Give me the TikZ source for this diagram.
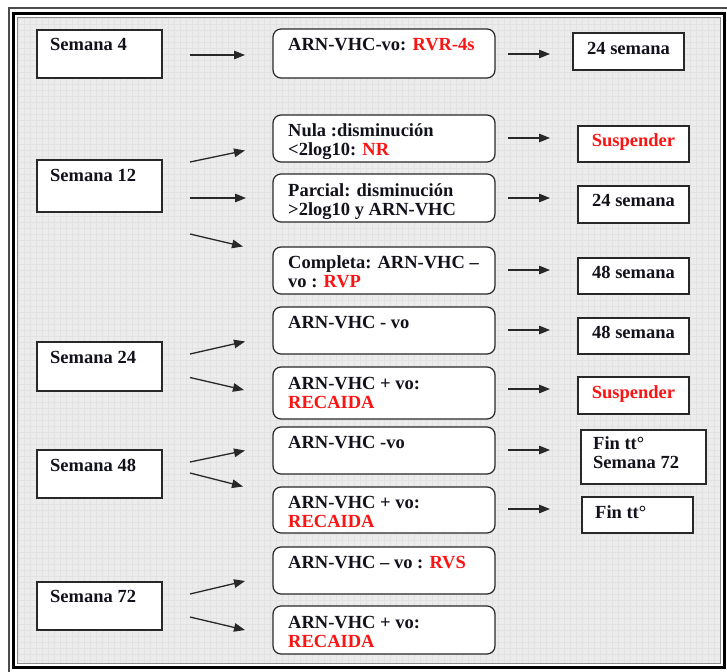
\documentclass[tikz,border=0pt]{standalone}
\usepackage{fontspec}
\setmainfont{Liberation Serif}
\usetikzlibrary{arrows.meta,calc}

\definecolor{ink}{RGB}{18,18,28}
\definecolor{alarm}{RGB}{250,20,20}
\definecolor{paper}{RGB}{236,236,236}
\definecolor{gridln}{RGB}{226,226,226}
\definecolor{edge}{RGB}{40,40,40}

\newcommand{\hot}[1]{\textcolor{alarm}{#1}}
\newcommand{\twoline}[2]{\vtop{\baselineskip=19pt\hbox{#1}\hbox{#2}}}

\tikzset{
  sqbox/.style={draw=edge, line width=1.4pt, fill=white, inner sep=0pt, outer sep=0pt},
  rbox/.style={draw=edge, line width=1.2pt, fill=white, rounded corners=8pt, inner sep=0pt, outer sep=0pt,
               minimum width=222pt},
  lbox/.style={sqbox, minimum width=125pt},
  obox/.style={sqbox, minimum width=111pt},
  txt/.style={anchor=base west, inner sep=0pt, font=\fontsize{18.5}{19}\selectfont\bfseries, text=ink},
  ctxt/.style={txt, anchor=base},
  arr/.style={draw=edge, line width=1.3pt, -{Triangle[length=11pt,width=8.5pt]}}
}

\begin{document}
\begin{tikzpicture}[x=1pt,y=-1pt]
\useasboundingbox (0,0) rectangle (727,671);

% sheet, grid and framing
\fill[white] (0,0) rectangle (727,671);
\fill[paper] (17,17) rectangle (721,664);
\begin{scope}
  \clip (17,17) rectangle (721,664);
  \draw[gridln, line width=0.4pt] (17,17) grid[step=6pt] (721,664);
\end{scope}
\draw[black!70, line width=2pt] (8.5,8.5) rectangle (730,674);
\draw[black, line width=3pt] (13.5,13.5) rectangle (724,667);
\draw[black!45, line width=0.8pt] (17,17) rectangle (720.5,663.5);

% week boxes
\node[lbox, minimum height=48pt] (s4)  at (99.5,54)  {};
\node[lbox, minimum height=52pt] (s12) at (99.5,186) {};
\node[lbox, minimum height=49pt] (s24) at (99.5,366.5) {};
\node[lbox, minimum height=48pt] (s48) at (99.5,474) {};
\node[lbox, minimum height=48pt] (s72) at (99.5,606) {};
\node[txt] at ([shift={(13,21)}]s4.north west)  {Semana 4};
\node[txt] at ([shift={(13,21)}]s12.north west) {Semana 12};
\node[txt] at ([shift={(13,21)}]s24.north west) {Semana 24};
\node[txt] at ([shift={(13,21)}]s48.north west) {Semana 48};
\node[txt] at ([shift={(13,20)}]s72.north west) {Semana 72};

% response boxes
\node[rbox, minimum height=49pt] (r4)   at (384,53.5)  {};
\node[rbox, minimum height=47pt] (rn)   at (384,138.5) {};
\node[rbox, minimum height=48pt] (rp)   at (384,198)   {};
\node[rbox, minimum height=47pt] (rc)   at (384,270.5) {};
\node[rbox, minimum height=47pt] (r24a) at (384,330.5) {};
\node[rbox, minimum height=52pt] (r24b) at (384,393)   {};
\node[rbox, minimum height=47pt] (r48a) at (384,450.5) {};
\node[rbox, minimum height=46pt] (r48b) at (384,510)   {};
\node[rbox, minimum height=47pt] (r72a) at (384,570.5) {};
\node[rbox, minimum height=48pt] (r72b) at (384,630)   {};

\node[txt] at ([shift={(15,22)}]r4.north west)   {ARN-VHC-vo: \hot{RVR-4s}};
\node[txt] at ([shift={(15,22)}]rn.north west)   {\twoline{Nula :disminución}{<2log10: \hot{NR}}};
\node[txt] at ([shift={(15,22)}]rp.north west)   {\twoline{Parcial: disminución}{>2log10 y ARN-VHC}};
\node[txt] at ([shift={(15,21)}]rc.north west)   {\twoline{Completa: ARN-VHC –}{vo : \hot{RVP}}};
\node[txt] at ([shift={(15,21)}]r24a.north west) {ARN-VHC - vo};
\node[txt] at ([shift={(15,22)}]r24b.north west) {\twoline{ARN-VHC + vo:}{\hot{RECAIDA}}};
\node[txt] at ([shift={(15,21)}]r48a.north west) {ARN-VHC -vo};
\node[txt] at ([shift={(15,21)}]r48b.north west) {\twoline{ARN-VHC + vo:}{\hot{RECAIDA}}};
\node[txt] at ([shift={(15,21)}]r72a.north west) {ARN-VHC – vo : \hot{RVS}};
\node[txt] at ([shift={(15,22)}]r72b.north west) {\twoline{ARN-VHC + vo:}{\hot{RECAIDA}}};

% outcome boxes
\node[obox, minimum height=37pt] (o4)   at (628.5,51.5) {};
\node[obox, minimum height=36pt] (o12a) at (633.5,144)  {};
\node[obox, minimum height=37pt] (o12b) at (633.5,204.5) {};
\node[obox, minimum height=36pt] (o12c) at (633.5,276)  {};
\node[obox, minimum height=36pt] (o24a) at (633.5,336)  {};
\node[obox, minimum height=37pt] (o24b) at (633.5,395.5) {};
\node[sqbox, minimum width=125pt, minimum height=54pt] (o48a) at (643.5,457) {};
\node[obox, minimum height=36pt] (o48b) at (637.5,515)  {};

\node[ctxt] at ([shift={(0,22)}]o4.north)   {24 semana};
\node[ctxt] at ([shift={(0,21)}]o12a.north) {\hot{Suspender}};
\node[ctxt] at ([shift={(0,20)}]o12b.north) {24 semana};
\node[ctxt] at ([shift={(0,20)}]o12c.north) {48 semana};
\node[ctxt] at ([shift={(0,20)}]o24a.north) {48 semana};
\node[ctxt] at ([shift={(0,21)}]o24b.north) {\hot{Suspender}};
\node[txt] at ([shift={(12,19)}]o48a.north west) {\twoline{Fin tt°}{Semana 72}};
\node[txt] at ([shift={(13,21)}]o48b.north west) {Fin tt°};

% arrow end points
\coordinate (a4s)   at (190,55);    \coordinate (a4e)   at (245,55);
\coordinate (a12as) at (190,162);   \coordinate (a12ae) at (245,150.5);
\coordinate (a12bs) at (190,198);   \coordinate (a12be) at (246,198);
\coordinate (a12cs) at (190,234);   \coordinate (a12ce) at (243,246.5);
\coordinate (a24as) at (190,354);   \coordinate (a24ae) at (245,341.5);
\coordinate (a24bs) at (190,377.5); \coordinate (a24be) at (244,390);
\coordinate (a48as) at (190,462);   \coordinate (a48ae) at (245,450.5);
\coordinate (a48bs) at (190,473);   \coordinate (a48be) at (243,486.5);
\coordinate (a72as) at (190,594);   \coordinate (a72ae) at (245,581);
\coordinate (a72bs) at (190,617);   \coordinate (a72be) at (245,630);

\foreach \k/\y in {4/54, 12a/138, 12b/198, 12c/270, 24a/330, 24b/389, 48a/450, 48b/509}{
  \coordinate (b\k s) at (508,\y);
  \coordinate (b\k e) at (550,\y);
}

% arrows into the response boxes
\foreach \k in {4,12a,12b,12c,24a,24b,48a,48b,72a,72b}{
  \draw[arr] (a\k s) -- (a\k e);
}
% arrows into the outcome boxes
\foreach \k in {4,12a,12b,12c,24a,24b,48a,48b}{
  \draw[arr] (b\k s) -- (b\k e);
}
\end{tikzpicture}
\end{document}
